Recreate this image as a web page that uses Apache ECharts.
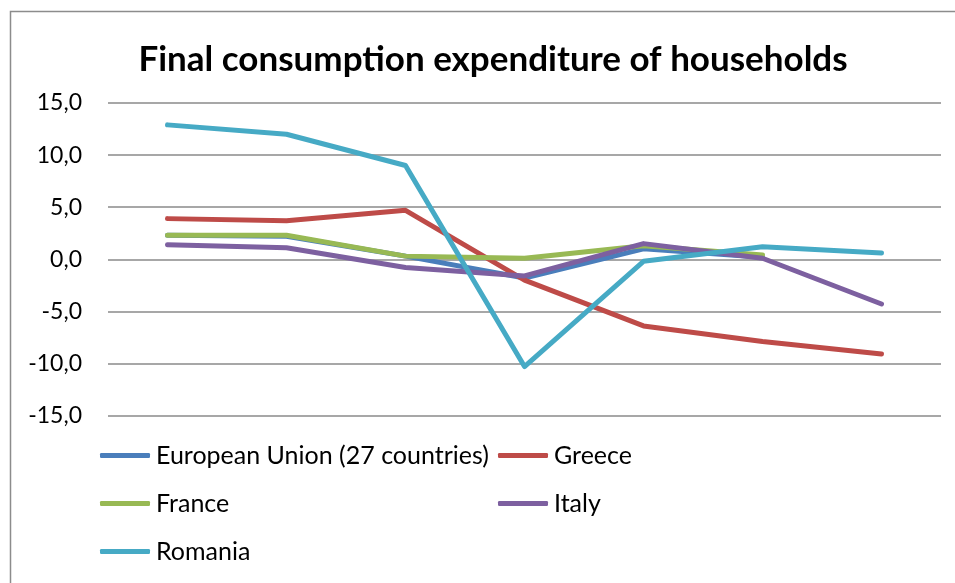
<!DOCTYPE html>
<html>
<head>
<meta charset="utf-8">
<script src="https://cdn.jsdelivr.net/npm/echarts@6/dist/echarts.min.js"></script>
<style>
  html, body { margin: 0; padding: 0; background: #fff; }
  #chart { width: 955px; height: 583px; }
</style>
</head>
<body>
<div id="chart"></div>
<script>
// Year-on-year change (%) of household final consumption expenditure
const categories = ['1', '2', '3', '4', '5', '6', '7'];
const euValues      = [2.3, 2.2, 0.3, -1.8, 1.0, 0.2, null];
const greeceValues  = [3.9, 3.7, 4.7, -2.0, -6.4, -7.9, -9.1];
const franceValues  = [2.3, 2.3, 0.3, 0.1, 1.3, 0.4, null];
const italyValues   = [1.4, 1.1, -0.8, -1.6, 1.5, 0.1, -4.3];
const romaniaValues = [12.9, 12.0, 9.0, -10.3, -0.2, 1.2, 0.6];
const yTicks = [-15, -10, -5, 0, 5, 10, 15];

const seriesNames = ['European Union (27 countries)', 'Greece', 'France', 'Italy', 'Romania'];
const seriesData = [euValues, greeceValues, franceValues, italyValues, romaniaValues];
const colors = ['#4A7EBB', '#BE4B48', '#98B954', '#7D60A0', '#46AAC5'];

const FONT = 'Lato, "Open Sans", sans-serif';

const chart = echarts.init(document.getElementById('chart'), null, { renderer: 'canvas' });

function legendBlock(names, left, top) {
  return {
    data: names,
    left: left,
    top: top,
    orient: 'vertical',
    itemGap: 23,
    itemWidth: 50,
    itemHeight: 5,
    icon: 'roundRect',
    textStyle: { fontFamily: FONT, fontSize: 25, lineHeight: 25, color: '#000', padding: [0, 0, 0, 1] },
    padding: 0
  };
}

chart.setOption({
  animation: false,
  color: colors,
  title: {
    text: 'Final consumption expenditure of households',
    left: 488,
    top: 37,
    textAlign: 'center',
    textStyle: { fontFamily: FONT, fontSize: 35, fontWeight: 'bold', color: '#000' }
  },
  graphic: [{
    type: 'rect',
    shape: { x: 10.5, y: 11.5, width: 960, height: 600 },
    style: { fill: 'none', stroke: '#8c8c8c', lineWidth: 1.5 },
    silent: true,
    z: -1
  }],
  legend: [
    legendBlock(['European Union (27 countries)', 'France', 'Romania'], 100, 443),
    legendBlock(['Greece', 'Italy'], 498, 443)
  ],
  grid: { left: 108, right: 14, top: 103, height: 312.5, containLabel: false },
  xAxis: {
    type: 'category',
    data: categories,
    boundaryGap: true,
    axisLine: { show: false },
    axisTick: { show: false },
    axisLabel: { show: false },
    splitLine: { show: false }
  },
  yAxis: {
    type: 'value',
    min: yTicks[0],
    max: yTicks[yTicks.length - 1],
    interval: 5,
    axisLine: { show: false },
    axisTick: { show: false },
    axisLabel: {
      margin: 26,
      fontFamily: FONT,
      fontSize: 23,
      color: '#000',
      formatter: v => v.toFixed(1).replace('.', ',')
    },
    splitLine: { lineStyle: { color: '#8a8a8a', width: 1.5 } }
  },
  series: seriesNames.map((name, i) => ({
    name: name,
    type: 'line',
    data: seriesData[i],
    showSymbol: false,
    symbol: 'none',
    connectNulls: false,
    lineStyle: { width: 5, color: colors[i], cap: 'round', join: 'round' },
    itemStyle: { color: colors[i] }
  }))
});
</script>
</body>
</html>
